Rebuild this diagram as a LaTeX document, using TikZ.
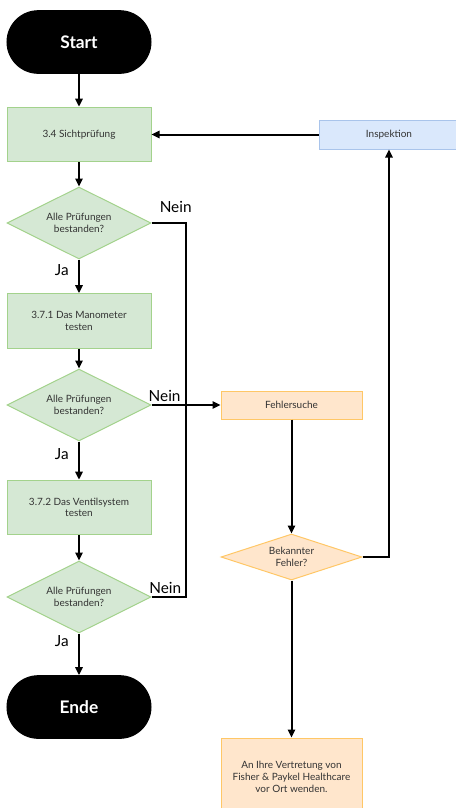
\documentclass[tikz,border=0pt]{standalone}
\usepackage{fontspec}
\setmainfont{Lato}
\usetikzlibrary{shapes.geometric,arrows.meta}

\definecolor{gruenfill}{HTML}{D5E8D4}
\definecolor{gruenrand}{HTML}{A3D28C}
\definecolor{blaufill}{HTML}{DAE8FC}
\definecolor{blaurand}{HTML}{A9C4EB}
\definecolor{orangefill}{HTML}{FFE6CC}
\definecolor{orangerand}{HTML}{FFC766}
\definecolor{textgrau}{HTML}{333333}

\tikzset{
  startstop/.style={fill=black, draw=black, text=white, rounded corners=23.5pt,
    minimum width=108pt, minimum height=47pt, font=\fontsize{13}{15}\selectfont\bfseries},
  pruefung/.style={fill=gruenfill, draw=gruenrand, minimum width=108pt, minimum height=41pt},
  frage/.style={diamond, aspect=2, fill=gruenfill, draw=gruenrand, inner sep=0pt,
    minimum width=108pt, minimum height=54pt},
  inspekt/.style={fill=blaufill, draw=blaurand, minimum width=105pt, minimum height=21.75pt},
  fehler/.style={fill=orangefill, draw=orangerand, minimum width=105.75pt, minimum height=21pt},
  bekannt/.style={diamond, aspect=3, fill=orangefill, draw=orangerand, inner sep=0pt,
    minimum width=105.75pt, minimum height=34.5pt},
  hinweis/.style={fill=orangefill, draw=orangerand, minimum width=105.75pt, minimum height=58.5pt,
    font=\fontsize{7.5}{9.25}\selectfont},
  antwort/.style={font=\fontsize{11.5}{13}\selectfont, text=black, inner sep=2pt}
}

\begin{document}
\begin{tikzpicture}[x=0.75pt, y=-0.75pt]
  \useasboundingbox (0,0) rectangle (456,808);

  \begin{scope}[every node/.style={rectangle, draw, align=center, text=textgrau, line width=0.75pt,
      font=\fontsize{7.5}{8.75}\selectfont}]
    \node [startstop] (0) at (79,42) {Start};
    \node [pruefung] (1) at (79,134.5) {3.4 Sichtprüfung};
    \node [frage] (2) at (79,223) {Alle Prüfungen\\bestanden?};
    \node [pruefung] (3) at (79,321) {3.7.1 Das Manometer\\testen};
    \node [frage] (4) at (79,405) {Alle Prüfungen\\bestanden?};
    \node [pruefung] (5) at (79,507.5) {3.7.2 Das Ventilsystem\\testen};
    \node [frage] (6) at (79,597) {Alle Prüfungen\\bestanden?};
    \node [startstop] (7) at (79,707) {Ende};

    \node [inspekt] (8) at (389,134.5) {Inspektion};
    \node [fehler] (9) at (291.5,405) {Fehlersuche};
    \node [bekannt] (10) at (291.5,557) {Bekannter\\Fehler?};
    \node [hinweis] (11) at (291.5,777) {An Ihre Vertretung von\\Fisher \& Paykel Healthcare\\vor Ort wenden.};
  \end{scope}

  \coordinate (j) at (186,405);

  \begin{scope}[->, >={Triangle[length=6pt,width=5.5pt]}, line width=1.5pt]
    \draw (0) to (1);
    \draw (8) to (1);
    \draw (1) to (2);
    \draw (2) to node [antwort, left=5pt, pos=0.32] {Ja} (3);
    \draw (3) to (4);
    \draw (4) to node [antwort, left=5pt, pos=0.32] {Ja} (5);
    \draw (5) to (6);
    \draw (6) to node [antwort, left=5pt, pos=0.18] {Ja} (7);
    \draw [-] (2.east) -| node [antwort, above=5pt, pos=0.35] {Nein} (j);
    \draw [-] (6.east) -| node [antwort, above, pos=0.2] {Nein} (j);
    \draw (4.east) to node [antwort, above, pos=0.19] {Nein} (9.west);
    \draw (9) to (10);
    \draw (10.east) -| (8.south);
    \draw (10) to (11);
  \end{scope}
\end{tikzpicture}
\end{document}
